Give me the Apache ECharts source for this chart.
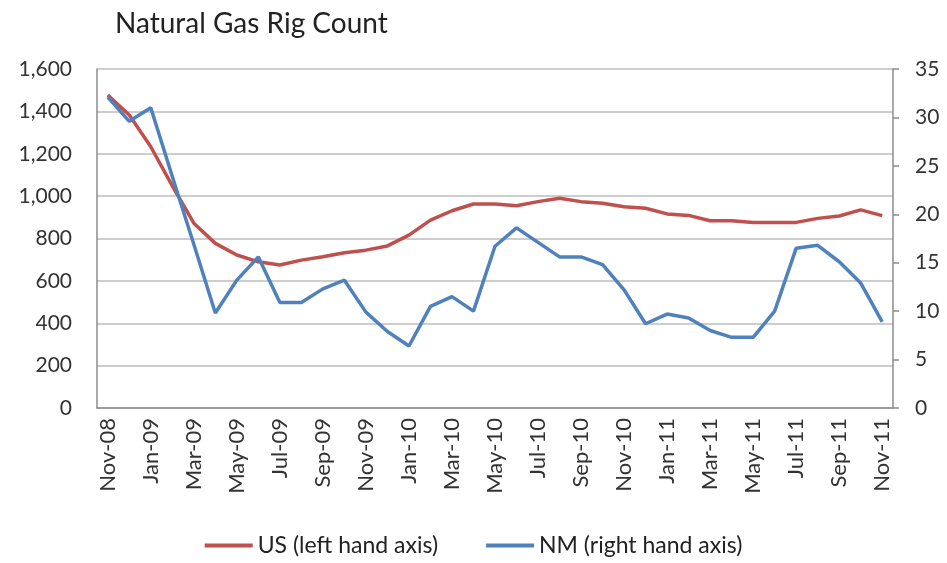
<!DOCTYPE html>
<html><head><meta charset="utf-8">
<script src="https://cdn.jsdelivr.net/npm/echarts@6/dist/echarts.min.js"></script>
<style>html,body{margin:0;padding:0;background:#fff}#c{width:947px;height:563px}</style>
</head><body><div id="c"></div>
<script>
const months = ["Nov-08","Dec-08","Jan-09","Feb-09","Mar-09","Apr-09","May-09","Jun-09","Jul-09","Aug-09","Sep-09","Oct-09","Nov-09","Dec-09",
"Jan-10","Feb-10","Mar-10","Apr-10","May-10","Jun-10","Jul-10","Aug-10","Sep-10","Oct-10","Nov-10","Dec-10",
"Jan-11","Feb-11","Mar-11","Apr-11","May-11","Jun-11","Jul-11","Aug-11","Sep-11","Oct-11","Nov-11"];
const usRigs = [1477,1383,1233,1048,872,777,722,690,675,698,714,733,745,765,
816,887,931,963,963,955,974,990,974,966,950,943,916,909,884,884,876,876,876,895,906,935,908];
const nmRigs = [32.1,29.6,31.0,23.9,16.9,9.8,13.2,15.6,10.9,10.9,12.3,13.2,9.9,7.9,
6.4,10.5,11.5,10.0,16.7,18.6,17.1,15.6,15.6,14.8,12.2,8.7,9.7,9.3,8.0,7.3,7.3,10.0,16.5,16.8,15.1,12.9,8.9];
const leftTicks = {min:0,max:1600,interval:200};
const rightTicks = {min:0,max:35,interval:5};

const font = "Lato, 'Open Sans', sans-serif";
const chart = echarts.init(document.getElementById('c'));
chart.setOption({
  animation:false,
  title:{text:"Natural Gas Rig Count",left:110,top:5,textStyle:{fontFamily:font,fontSize:28,fontWeight:'normal',color:'#222'}},
  grid:{left:97,right:54,top:69,bottom:155},
  legend:{bottom:1,left:'center',itemWidth:48,itemHeight:4,itemGap:48,icon:'rect',
    textStyle:{fontFamily:font,fontSize:23,color:'#222'},
    data:["US (left hand axis)","NM (right hand axis)"]},
  xAxis:{type:'category',data:months,boundaryGap:true,
    axisLine:{lineStyle:{color:'#8c8c8c',width:1.5}},
    axisTick:{show:false},
    axisLabel:{rotate:90,interval:1,fontFamily:font,fontSize:22,color:'#333',margin:10}},
  yAxis:[
    {type:'value',min:leftTicks.min,max:leftTicks.max,interval:leftTicks.interval,position:'left',
     axisLine:{show:true,lineStyle:{color:'#8c8c8c',width:1.5}},axisTick:{show:false},
     splitLine:{lineStyle:{color:'#bdbdbd',width:1.5}},
     axisLabel:{fontFamily:font,fontSize:21,color:'#333',margin:25,
       formatter:v=>v.toLocaleString('en-US')}},
    {type:'value',min:rightTicks.min,max:rightTicks.max,interval:rightTicks.interval,position:'right',
     axisLine:{show:true,lineStyle:{color:'#8c8c8c',width:1.5}},
     axisTick:{show:true,inside:false,length:6,lineStyle:{color:'#8c8c8c',width:1.5}},
     splitLine:{show:false},
     axisLabel:{fontFamily:font,fontSize:21,color:'#333',margin:22}}
  ],
  series:[
    {name:"US (left hand axis)",type:'line',yAxisIndex:0,data:usRigs,symbol:'none',
     lineStyle:{color:'#C0504D',width:3.5},itemStyle:{color:'#C0504D'}},
    {name:"NM (right hand axis)",type:'line',yAxisIndex:1,data:nmRigs,symbol:'none',
     lineStyle:{color:'#4F81BD',width:3.5},itemStyle:{color:'#4F81BD'}}
  ]
});
</script></body></html>
